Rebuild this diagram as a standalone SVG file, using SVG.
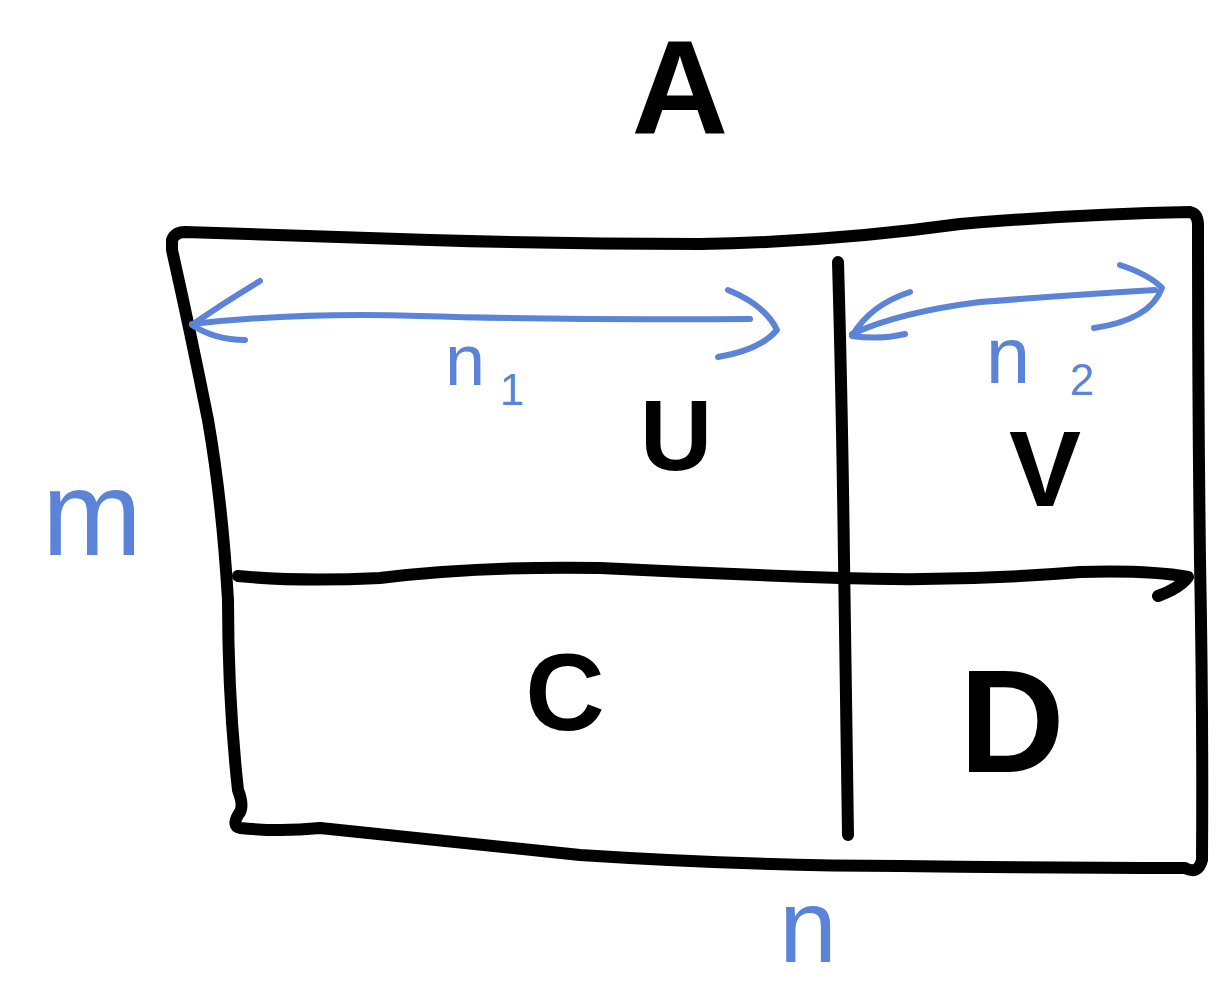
<svg xmlns="http://www.w3.org/2000/svg" width="1218" height="987" viewBox="0 0 1218 987">
<style>
.ink{fill:none;stroke:#000;stroke-width:12;stroke-linecap:round;stroke-linejoin:round}
.blue{fill:none;stroke:#5b84d8;stroke-width:6;stroke-linecap:round;stroke-linejoin:round}
.big{font-family:"Liberation Sans",Arial,sans-serif;font-weight:bold;fill:#000;text-anchor:middle}
.lab{font-family:"Liberation Sans",Arial,sans-serif;fill:#5b84d8;text-anchor:middle}
</style>
<rect width="1218" height="987" fill="#fff"/>
<g id="matrix">
<path class="ink" d="M172,240 Q175,232 185,232 Q300,236 430,240 Q560,244 700,244 Q830,242 960,224 Q1080,214 1190,212 Q1198,214 1198,225 Q1198,400 1200,560 Q1203,720 1202,860 Q1198,875 1185,868 Q1050,868 900,866 Q750,866 580,855 Q430,840 320,828 Q280,832 240,828 Q232,826 238,815 Q245,808 238,790 Q228,700 228,600 Q222,500 208,420 Q190,330 172,250 Z"/>
<path class="ink" d="M838,262 Q842,400 844,560 Q846,700 848,835"/>
<path class="ink" d="M238,576 Q300,582 380,578 Q480,566 600,568 Q720,574 840,578 Q960,582 1080,572 Q1150,570 1188,577 Q1180,588 1158,596"/>
</g>
<g id="connectors">
<path class="blue" d="M192,324 Q300,312 420,316 Q550,320 750,319"/>
<path class="blue" d="M260,281 Q220,305 192,325 Q215,340 245,340"/>
<path class="blue" d="M728,290 Q765,305 777,330 Q760,350 718,357"/>
<path class="blue" d="M852,334 Q900,312 980,302 Q1070,295 1155,290"/>
<path class="blue" d="M910,292 Q870,305 852,336 Q880,340 905,334"/>
<path class="blue" d="M1120,265 Q1150,275 1162,288 Q1150,320 1094,328"/>
</g>
<g id="labels">
<text class="big" x="680" y="134" font-size="134">A</text>
<text class="big" x="676" y="470" font-size="100">U</text>
<text class="big" x="1045" y="506" font-size="108">V</text>
<text class="big" x="565" y="730" font-size="110">C</text>
<text class="big" x="1012" y="772" font-size="146">D</text>
<text class="lab" x="92" y="555" font-size="120">m</text>
<text class="lab" x="465" y="385" font-size="72">n</text>
<text class="lab" x="512" y="405" font-size="44">1</text>
<text class="lab" x="1008" y="383" font-size="80">n</text>
<text class="lab" x="1082" y="395" font-size="44">2</text>
<text class="lab" x="808" y="962" font-size="104">n</text>
</g>
</svg>
